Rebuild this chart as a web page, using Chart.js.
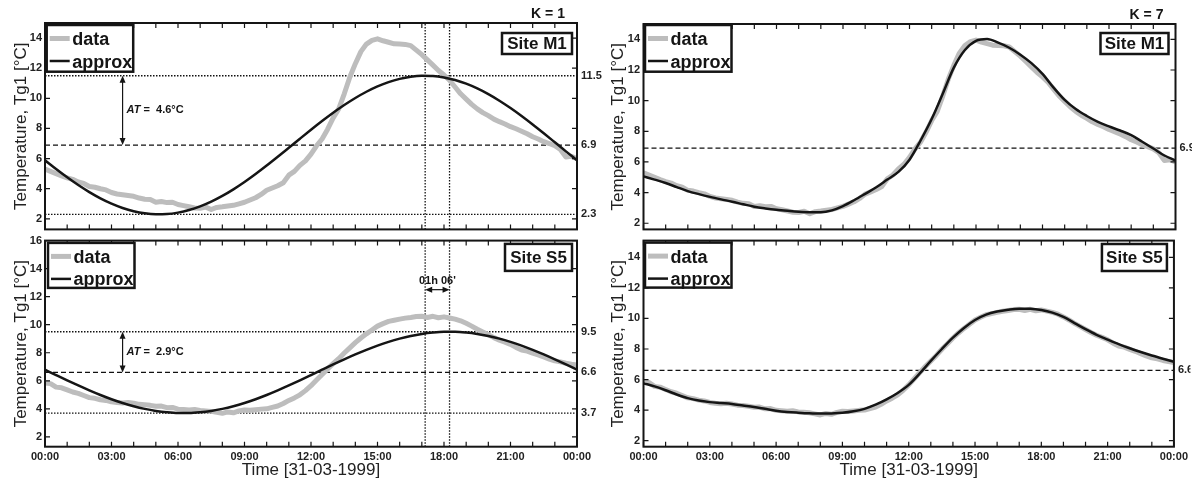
<!DOCTYPE html>
<html><head><meta charset="utf-8">
<script src="https://cdn.jsdelivr.net/npm/chart.js@4/dist/chart.umd.min.js"></script>
<style>
html,body{margin:0;padding:0;background:#fff;width:1192px;height:481px;overflow:hidden;position:relative}
canvas{position:absolute}
</style></head><body>
<canvas id="tl" width="610" height="240" style="left:0;top:0"></canvas>
<canvas id="tr" width="592" height="240" style="left:600px;top:0"></canvas>
<canvas id="bl" width="610" height="251" style="left:0;top:230px"></canvas>
<canvas id="br" width="592" height="251" style="left:600px;top:230px"></canvas>
<script>
// ---------- data ----------
const HOURS_Q = [0,0.25,0.5,0.75,1,1.25,1.5,1.75,2,2.25,2.5,2.75,3,3.25,3.5,3.75,4,4.25,4.5,4.75,5,5.25,5.5,5.75,6,6.25,6.5,6.75,7,7.25,7.5,7.75,8,8.25,8.5,8.75,9,9.25,9.5,9.75,10,10.25,10.5,10.75,11,11.25,11.5,11.75,12,12.25,12.5,12.75,13,13.25,13.5,13.75,14,14.25,14.5,14.75,15,15.25,15.5,15.75,16,16.25,16.5,16.75,17,17.25,17.5,17.75,18,18.25,18.5,18.75,19,19.25,19.5,19.75,20,20.25,20.5,20.75,21,21.25,21.5,21.75,22,22.25,22.5,22.75,23,23.25,23.5,23.75,24];
const HOURS_H = [0,0.5,1,1.5,2,2.5,3,3.5,4,4.5,5,5.5,6,6.5,7,7.5,8,8.5,9,9.5,10,10.5,11,11.5,12,12.5,13,13.5,14,14.5,15,15.5,16,16.5,17,17.5,18,18.5,19,19.5,20,20.5,21,21.5,22,22.5,23,23.5,24];

// measured temperature, site M1 (every 15 min)
const M1_DATA = [5.30,5.15,5.00,4.85,4.72,4.62,4.45,4.35,4.15,4.10,4.00,3.92,3.75,3.65,3.60,3.55,3.50,3.38,3.30,3.28,3.10,3.15,3.08,3.10,2.95,2.88,2.80,2.72,2.70,2.78,2.62,2.76,2.80,2.85,2.90,3.00,3.10,3.25,3.40,3.62,3.90,4.05,4.20,4.40,4.90,5.15,5.55,5.85,6.30,6.85,7.30,7.95,8.70,9.30,10.30,11.40,12.30,13.10,13.60,13.85,13.95,13.82,13.72,13.62,13.60,13.58,13.50,13.20,12.90,12.55,12.20,11.85,11.55,11.20,10.75,10.30,9.95,9.60,9.30,9.05,8.85,8.62,8.45,8.30,8.12,7.98,7.82,7.65,7.45,7.30,7.12,7.00,6.85,6.60,6.10,6.15,6.00];
// measured temperature, site S5 (every 15 min)
const S5_DATA = [5.85,5.80,5.55,5.50,5.35,5.20,5.10,4.95,4.80,4.75,4.65,4.60,4.50,4.45,4.42,4.45,4.40,4.32,4.30,4.25,4.18,4.20,4.08,4.10,3.98,3.95,3.92,3.95,3.88,3.85,3.82,3.75,3.68,3.78,3.72,3.85,3.92,3.90,3.94,3.98,4.00,4.10,4.20,4.38,4.60,4.78,5.00,5.30,5.65,6.05,6.45,6.85,7.22,7.58,7.98,8.35,8.72,9.05,9.35,9.62,9.90,10.08,10.24,10.32,10.40,10.47,10.52,10.58,10.60,10.52,10.60,10.50,10.56,10.48,10.40,10.28,10.10,9.90,9.68,9.48,9.28,9.08,8.90,8.76,8.60,8.38,8.20,8.12,7.98,7.85,7.70,7.55,7.42,7.35,7.25,7.18,7.12];

// approximations, every 30 min
const M1_K1 = [5.885,5.308,4.758,4.245,3.778,3.364,3.010,2.723,2.507,2.366,2.304,2.319,2.414,2.584,2.829,3.144,3.522,3.959,4.445,4.974,5.536,6.121,6.719,7.321,7.915,8.492,9.042,9.555,10.022,10.436,10.790,11.077,11.293,11.434,11.496,11.481,11.386,11.216,10.971,10.656,10.278,9.841,9.355,8.826,8.264,7.679,7.081,6.479,5.885];
const S5_K1 = [6.790,6.410,6.034,5.668,5.317,4.989,4.688,4.420,4.189,3.999,3.854,3.756,3.706,3.706,3.756,3.854,3.999,4.189,4.420,4.688,4.989,5.317,5.668,6.034,6.410,6.790,7.166,7.532,7.883,8.211,8.512,8.780,9.011,9.201,9.346,9.444,9.494,9.494,9.444,9.346,9.201,9.011,8.780,8.512,8.211,7.883,7.532,7.166,6.790];
const M1_K7 = [5.06,4.85,4.63,4.36,4.10,3.90,3.72,3.56,3.41,3.24,3.08,2.97,2.88,2.81,2.75,2.72,2.72,2.84,3.12,3.50,3.92,4.35,4.85,5.35,6.15,7.40,8.80,10.45,12.15,13.30,13.90,14.02,13.78,13.45,13.00,12.45,11.75,10.85,10.05,9.45,9.00,8.62,8.32,8.05,7.75,7.32,6.88,6.42,6.10];
const S5_K7 = [5.75,5.55,5.30,5.02,4.78,4.62,4.52,4.46,4.40,4.30,4.20,4.08,3.96,3.88,3.83,3.79,3.77,3.78,3.82,3.92,4.08,4.35,4.70,5.12,5.65,6.40,7.22,8.00,8.74,9.38,9.90,10.25,10.45,10.57,10.64,10.63,10.55,10.38,10.10,9.70,9.30,8.93,8.62,8.32,8.05,7.80,7.57,7.36,7.16];

// fitted levels: [max, mean, min]
const M1_LEVELS = [11.5, 6.9, 2.3];
const S5_LEVELS = [9.5, 6.6, 3.7];
const PEAK_TIMES = [17.15, 18.25];
const AMPLITUDE_LABELS = ['4.6°C', '2.9°C'];
const SHIFT_LABEL = "01h 06'";
const SITE_NAMES = ['Site M1', 'Site S5'];
const K_LABELS = ['K = 1', 'K = 7'];
const SERIES_NAMES = ['data', 'approx'];
const Y_TITLE = 'Temperature, Tg1 [°C]';
const X_TITLE = 'Time [31-03-1999]';

// ---------- rendering ----------
Chart.defaults.font.family = "'Liberation Sans', Arial, Helvetica, sans-serif";
Chart.defaults.color = '#222';
const INK = '#151515';
const GRAY = '#bdbdbd';

function pts(xs, ys) { return xs.map((x, i) => ({ x: x, y: ys[i] })); }
function hhmm(v) { return String(v % 24).padStart(2, '0') + ':00'; }

function arrowHead(ctx, x, y, dx, dy) {
  const L = 7, W = 3;
  ctx.beginPath();
  ctx.moveTo(x, y);
  ctx.lineTo(x - dx * L - dy * W, y - dy * L + dx * W);
  ctx.lineTo(x - dx * L + dy * W, y - dy * L - dx * W);
  ctx.closePath();
  ctx.fill();
}

function makeDecor(cfg) {
  return {
    id: 'decor_' + cfg.id,
    afterDraw(chart) {
      const ctx = chart.ctx, a = chart.chartArea;
      const xs = chart.scales.x, ys = chart.scales.y;
      ctx.save();
      // inward tick marks
      ctx.strokeStyle = INK; ctx.lineWidth = 1.2;
      ctx.beginPath();
      xs.ticks.forEach(t => {
        const px = xs.getPixelForValue(t.value);
        ctx.moveTo(px, a.bottom); ctx.lineTo(px, a.bottom - 5);
        ctx.moveTo(px, a.top); ctx.lineTo(px, a.top + 5);
      });
      ys.ticks.forEach(t => {
        const py = ys.getPixelForValue(t.value);
        ctx.moveTo(a.left, py); ctx.lineTo(a.left + 5, py);
        ctx.moveTo(a.right, py); ctx.lineTo(a.right - 5, py);
      });
      ctx.stroke();
      // frame
      ctx.lineWidth = 2;
      ctx.strokeRect(a.left, a.top, a.right - a.left, a.bottom - a.top);

      // amplitude arrow
      if (cfg.amp) {
        const x = xs.getPixelForValue(3.5);
        const y1 = ys.getPixelForValue(cfg.levels[0]);
        const y2 = ys.getPixelForValue(cfg.levels[1]);
        ctx.fillStyle = INK; ctx.lineWidth = 1.2;
        ctx.beginPath(); ctx.moveTo(x, y1 + 3); ctx.lineTo(x, y2 - 3); ctx.stroke();
        arrowHead(ctx, x, y1, 0, -1);
        arrowHead(ctx, x, y2, 0, 1);
        const ym = ys.getPixelForValue((cfg.levels[0] + cfg.levels[1]) / 2);
        ctx.textBaseline = 'middle'; ctx.textAlign = 'left';
        ctx.font = "italic bold 11px 'Liberation Sans', Arial, sans-serif";
        ctx.fillText('AT', x + 4, ym);
        const w = ctx.measureText('AT').width;
        ctx.font = "bold 11px 'Liberation Sans', Arial, sans-serif";
        ctx.fillText(' =  ' + cfg.amp, x + 4 + w, ym);
      }
      // phase shift arrow
      if (cfg.shift) {
        const x1 = xs.getPixelForValue(PEAK_TIMES[0]);
        const x2 = xs.getPixelForValue(PEAK_TIMES[1]);
        const y = ys.getPixelForValue(12.5);
        ctx.fillStyle = INK; ctx.lineWidth = 1.2;
        ctx.beginPath(); ctx.moveTo(x1 + 3, y); ctx.lineTo(x2 - 3, y); ctx.stroke();
        arrowHead(ctx, x1, y, -1, 0);
        arrowHead(ctx, x2, y, 1, 0);
        ctx.font = "bold 11px 'Liberation Sans', Arial, sans-serif";
        ctx.textAlign = 'center'; ctx.textBaseline = 'middle';
        ctx.fillText(cfg.shift, (x1 + x2) / 2, ys.getPixelForValue(13.1));
      }

      // legend box
      const L = cfg.legend;
      const lx = a.left + L.dx, ly = a.top + L.dy;
      ctx.fillStyle = '#fff';
      ctx.fillRect(lx, ly, 86.5, L.h);
      ctx.lineWidth = 2.5; ctx.strokeStyle = INK;
      ctx.strokeRect(lx, ly, 86.5, L.h);
      const items = chart.data.datasets.filter(d => d.inLegend);
      items.sort((p, q) => SERIES_NAMES.indexOf(p.label) - SERIES_NAMES.indexOf(q.label));
      items.forEach((d, i) => {
        const yl = ly + (i === 0 ? 13.5 : 36);
        ctx.strokeStyle = d.borderColor; ctx.lineWidth = d.borderWidth;
        ctx.beginPath(); ctx.moveTo(lx + 3, yl); ctx.lineTo(lx + 23, yl); ctx.stroke();
        ctx.fillStyle = INK;
        ctx.font = "bold 18px 'Liberation Sans', Arial, sans-serif";
        ctx.textAlign = 'left'; ctx.textBaseline = 'alphabetic';
        ctx.fillText(d.label, lx + 25.5, yl + 6.5);
      });

      // site box
      const S = cfg.site;
      const sx = a.right - S.dr - S.w, sy = a.top + S.dy;
      ctx.fillStyle = '#fff'; ctx.fillRect(sx, sy, S.w, S.h);
      ctx.lineWidth = 2.5; ctx.strokeStyle = INK; ctx.strokeRect(sx, sy, S.w, S.h);
      ctx.fillStyle = INK;
      ctx.font = "bold 17px 'Liberation Sans', Arial, sans-serif";
      ctx.textAlign = 'center'; ctx.textBaseline = 'middle';
      ctx.fillText(S.text, sx + S.w / 2, sy + S.h / 2 + 1);

      // K label
      if (cfg.k) {
        ctx.font = "bold 14px 'Liberation Sans', Arial, sans-serif";
        ctx.textAlign = 'center'; ctx.textBaseline = 'middle';
        ctx.fillText(cfg.k, a.right - 29, a.top - 9);
      }
      ctx.restore();
    }
  };
}

function makeChart(cfg) {
  const datasets = [
    { label: SERIES_NAMES[1], inLegend: true, data: pts(HOURS_H, cfg.approx), borderColor: INK, borderWidth: 2.5,
      pointRadius: 0, cubicInterpolationMode: 'monotone', order: 0 },
    { label: SERIES_NAMES[0], inLegend: true, data: pts(HOURS_Q, cfg.data), borderColor: GRAY, borderWidth: 5,
      pointRadius: 0, tension: 0, borderJoinStyle: 'round', order: 1 }
  ];
  cfg.refs.forEach(r => {
    datasets.push({ label: '', data: [{ x: 0, y: r.v }, { x: 24, y: r.v }], borderColor: '#111',
      borderWidth: r.dash === 'dash' ? 1.3 : 1.3, borderDash: r.dash === 'dash' ? [5, 3] : [1.5, 1.5],
      pointRadius: 0, order: 2 });
  });
  if (cfg.vlines) {
    PEAK_TIMES.forEach(t => {
      datasets.push({ label: '', data: [{ x: t, y: cfg.ymin }, { x: t, y: cfg.ymax }], borderColor: '#111',
        borderWidth: 1.3, borderDash: [1.5, 1.5], pointRadius: 0, order: 2 });
    });
  }
  const tickFont = { size: 11, weight: 'bold' };
  return new Chart(document.getElementById(cfg.id), {
    type: 'line',
    data: { datasets: datasets },
    options: {
      responsive: false, animation: false, devicePixelRatio: 1,
      layout: { padding: { left: 0, right: 0, top: cfg.padTop, bottom: 0 } },
      plugins: { legend: { display: false }, tooltip: { enabled: false } },
      scales: {
        x: {
          type: 'linear', min: 0, max: 24,
          afterFit: s => { s.height = cfg.xh; },
          ticks: { display: cfg.xlabels, stepSize: 1, autoSkip: false, maxRotation: 0, minRotation: 0,
                   padding: 4, font: tickFont, color: '#222',
                   callback: v => (v % 3 === 0 ? hhmm(v) : '') },
          grid: { display: false, drawTicks: false },
          border: { display: false },
          title: { display: cfg.xlabels, text: X_TITLE, font: { size: 17 }, color: '#222',
                   padding: { top: 0, bottom: 0.5 } }
        },
        y: {
          type: 'linear', position: 'left', min: cfg.ymin, max: cfg.ymax,
          afterFit: s => { s.width = cfg.yw; },
          ticks: { stepSize: 2, includeBounds: false, padding: cfg.ytp, font: tickFont, color: '#222' },
          grid: { display: false, drawTicks: false },
          border: { display: false },
          title: { display: true, text: Y_TITLE, font: { size: 17 }, color: '#222',
                   padding: { top: cfg.ytitle, bottom: 0 } }
        },
        y2: {
          type: 'linear', position: 'right', min: cfg.ymin, max: cfg.ymax,
          afterFit: s => { s.width = cfg.y2w; },
          afterBuildTicks: s => { s.ticks = cfg.rightLabels.map(v => ({ value: v })); },
          ticks: { padding: 4, font: tickFont, color: '#222', autoSkip: false,
                   callback: v => Number(v).toFixed(1) },
          grid: { display: false, drawTicks: false },
          border: { display: false }
        }
      }
    },
    plugins: [makeDecor(cfg)]
  });
}

const refsFor = lv => [{ v: lv[0], dash: 'dot' }, { v: lv[1], dash: 'dash' }, { v: lv[2], dash: 'dot' }];

makeChart({ id: 'tl', ymin: 1.3, ymax: 15, padTop: 23, xh: 7.3, yw: 45, y2w: 33, ytp: 3, ytitle: 11,
  xlabels: false, data: M1_DATA, approx: M1_K1, refs: refsFor(M1_LEVELS), levels: M1_LEVELS,
  rightLabels: M1_LEVELS, vlines: true, amp: AMPLITUDE_LABELS[0], shift: null,
  legend: { dx: 1.7, dy: 2, h: 46.7 }, site: { text: SITE_NAMES[0], dr: 5, w: 70, dy: 10, h: 21 }, k: K_LABELS[0] });

makeChart({ id: 'tr', ymin: 1.6, ymax: 15, padTop: 24, xh: 7.7, yw: 43.5, y2w: 16.5, ytp: 3.5, ytitle: 8,
  xlabels: false, data: M1_DATA, approx: M1_K7, refs: [{ v: M1_LEVELS[1], dash: 'dash' }], levels: M1_LEVELS,
  rightLabels: [M1_LEVELS[1]], vlines: false, amp: null, shift: null,
  legend: { dx: 1.5, dy: 1, h: 46.7 }, site: { text: SITE_NAMES[0], dr: 7, w: 68, dy: 9, h: 21 }, k: K_LABELS[1] });

makeChart({ id: 'bl', ymin: 1.3, ymax: 16, padTop: 7.7, xh: 34.3, yw: 45, y2w: 33, ytp: 3, ytitle: 11,
  xlabels: true, data: S5_DATA, approx: S5_K1, refs: refsFor(S5_LEVELS), levels: S5_LEVELS,
  rightLabels: S5_LEVELS, vlines: true, amp: AMPLITUDE_LABELS[1], shift: SHIFT_LABEL,
  legend: { dx: 3, dy: 2.3, h: 45 }, site: { text: SITE_NAMES[1], dr: 5, w: 67, dy: 3.3, h: 27 }, k: null });

makeChart({ id: 'br', ymin: 1.6, ymax: 15.1, padTop: 8.3, xh: 34.3, yw: 43.5, y2w: 16.5, ytp: 3.5, ytitle: 8,
  xlabels: true, data: S5_DATA, approx: S5_K7, refs: [{ v: S5_LEVELS[1], dash: 'dash' }], levels: S5_LEVELS,
  rightLabels: [S5_LEVELS[1]], vlines: false, amp: null, shift: null,
  legend: { dx: 1.5, dy: 2, h: 45 }, site: { text: SITE_NAMES[1], dr: 7, w: 65, dy: 3.4, h: 27 }, k: null });
</script>
</body></html>
